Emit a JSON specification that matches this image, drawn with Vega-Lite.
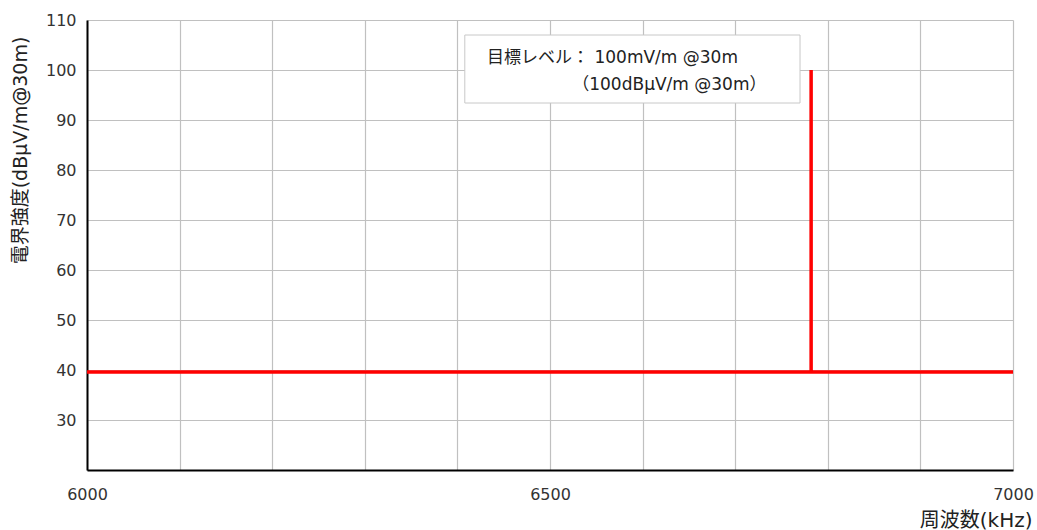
{
  "$schema": "https://vega.github.io/schema/vega-lite/v6.json",
  "width": 926,
  "height": 450,
  "autosize": {"type": "none"},
  "padding": {"left": 87, "top": 20, "right": 24, "bottom": 60},
  "background": "white",
  "config": {
    "view": {"stroke": null},
    "font": "DejaVu Sans, Noto Sans CJK JP",
    "axis": {
      "gridColor": "#c0c0c0",
      "gridWidth": 1.2,
      "gridOpacity": 1,
      "domainColor": "#000000",
      "domainWidth": 2,
      "ticks": false,
      "labelFont": "DejaVu Sans",
      "labelFontSize": 16,
      "labelColor": "#333333",
      "titleFont": "DejaVu Sans, Noto Sans CJK JP",
      "titleFontWeight": "normal",
      "titleColor": "#222222",
      "labelOverlap": false,
      "labelFlush": false
    }
  },
  "datasets": {
    "level": [
      {"f": 6000, "v": 39.6, "o": 1},
      {"f": 6782, "v": 39.6, "o": 2},
      {"f": 6782, "v": 100, "o": 3},
      {"f": 6782, "v": 39.6, "o": 4},
      {"f": 7000, "v": 39.6, "o": 5}
    ],
    "box": [{"x1": 6408, "x2": 6770, "y1": 93.4, "y2": 107}],
    "notes": [
      {"x": 6432, "y": 102.4, "text": "目標レベル：  100mV/m @30m"},
      {"x": 6524, "y": 97, "text": "（100dBμV/m @30m）"}
    ]
  },
  "layer": [
    {
      "data": {"name": "level"},
      "mark": {"type": "line", "color": "#ff0000", "strokeWidth": 3.5, "strokeJoin": "miter", "interpolate": "linear"},
      "encoding": {
        "x": {
          "field": "f", "type": "quantitative",
          "scale": {"domain": [6000, 7000], "nice": false, "zero": false},
          "axis": {
            "values": [6000, 6100, 6200, 6300, 6400, 6500, 6600, 6700, 6800, 6900, 7000],
            "format": "d",
            "labelExpr": "datum.value % 500 == 0 ? datum.label : ''",
            "labelPadding": 16,
            "title": "周波数(kHz)",
            "titleFontSize": 20,
            "titleX": 945,
            "titleY": 50,
            "titleAlign": "right",
            "titleBaseline": "middle",
            "titleAnchor": null
          }
        },
        "y": {
          "field": "v", "type": "quantitative",
          "scale": {"domain": [20, 110], "nice": false, "zero": false},
          "axis": {
            "values": [20, 30, 40, 50, 60, 70, 80, 90, 100, 110],
            "labelExpr": "datum.value == 20 ? '' : datum.label",
            "labelPadding": 11,
            "title": "電界強度(dBμV/m@30m)",
            "titleFontSize": 19,
            "titleX": -67,
            "titleY": 130,
            "titleAngle": -90,
            "titleAlign": "center",
            "titleBaseline": "middle"
          }
        },
        "order": {"field": "o", "type": "quantitative"}
      }
    },
    {
      "data": {"name": "box"},
      "mark": {"type": "rect", "fill": "white", "stroke": "#c8c8c8", "strokeWidth": 1},
      "encoding": {
        "x": {"field": "x1", "type": "quantitative"},
        "x2": {"field": "x2"},
        "y": {"field": "y1", "type": "quantitative"},
        "y2": {"field": "y2"}
      }
    },
    {
      "data": {"name": "notes"},
      "mark": {"type": "text", "align": "left", "baseline": "middle", "fontSize": 17, "color": "#222222", "font": "DejaVu Sans, Noto Sans CJK JP"},
      "encoding": {
        "x": {"field": "x", "type": "quantitative"},
        "y": {"field": "y", "type": "quantitative"},
        "text": {"field": "text"}
      }
    }
  ]
}
